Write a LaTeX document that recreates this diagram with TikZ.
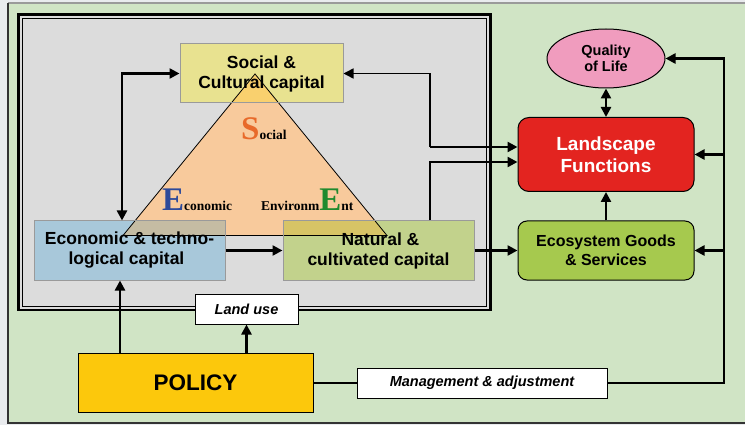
\documentclass[tikz,border=0pt]{standalone}
\usepackage{fontspec}
\setmainfont{Liberation Sans}
\newfontfamily\serifb{Liberation Serif}
\usetikzlibrary{arrows.meta,shapes.geometric,calc}
\definecolor{pagegray}{HTML}{E9EBEE}
\definecolor{bggreen}{HTML}{D0E4C5}
\definecolor{boxgray}{HTML}{DCDCDC}
\definecolor{socfill}{HTML}{E8E290}
\definecolor{ecofill}{HTML}{A8C8DA}
\definecolor{natfill}{HTML}{C2D28C}
\definecolor{trifill}{HTML}{F8CA9C}
\definecolor{socover}{HTML}{F9D06E}
\definecolor{ecoover}{HTML}{C5BCA3}
\definecolor{natover}{HTML}{D7C466}
\definecolor{qualfill}{HTML}{F09CBE}
\definecolor{landfill}{HTML}{E32420}
\definecolor{egsfill}{HTML}{A6C94E}
\definecolor{polfill}{HTML}{FCC80C}
\definecolor{sorange}{HTML}{E86A2A}
\definecolor{eblue}{HTML}{2E4A9A}
\definecolor{egreen}{HTML}{1E8A2E}
\definecolor{bordergray}{HTML}{9A9A9A}
\begin{document}
\begin{tikzpicture}[x=1pt,y=-1pt,
  capbox/.style={draw=bordergray,line width=1pt,inner sep=0pt,align=center,
    font=\fontsize{17.5}{20}\selectfont\bfseries},
  roundbox/.style={draw=black,line width=1pt,rounded corners=9pt,inner sep=0pt,align=center},
  labbox/.style={draw=black,fill=white,line width=1pt,inner sep=0pt,
    font=\fontsize{14.5}{16}\selectfont\bfseries\itshape},
  conn/.style={line width=2.4pt,-{Triangle[length=10pt,width=10pt]}},
  dconn/.style={line width=2.4pt,{Triangle[length=10pt,width=10pt]}-{Triangle[length=10pt,width=10pt]}},
  thinline/.style={line width=1.3pt}
]
\useasboundingbox (0,0) rectangle (745,425);
% page and green frame
\fill[pagegray] (0,0) rectangle (745,425);
\fill[bggreen] (8,3) rectangle (745,423);
\draw[bordergray,line width=1.2pt] (8,3) -- (745,3);
\draw[black!80,line width=1.3pt] (745,423) -- (8,423) -- (8,3);
% gray box with double frame
\fill[boxgray] (18.5,14.5) rectangle (490.5,310);
\draw[black,line width=2.6pt] (18.5,14.5) rectangle (490.5,310);
\draw[black,line width=1pt] (22.5,18.5) rectangle (486.5,306);
% triangle
\coordinate (ta) at (255,74);
\coordinate (tb) at (123,235.5);
\coordinate (tc) at (387,235.5);
\fill[trifill] (ta) -- (tb) -- (tc) -- cycle;
\draw[black,line width=0.8pt] (ta) -- (tb) -- (tc) -- cycle;
% capital boxes
\node[capbox,fill=socfill,minimum width=163pt,minimum height=59pt,
  path picture={\fill[socover] (ta) -- (tb) -- (tc) -- cycle;
    \draw[black,line width=0.8pt] (ta) -- (tb) -- (tc) -- cycle;}]
  (social) at (261.5,73.5) {Social \&\\Cultural capital};
\node[capbox,fill=ecofill,minimum width=191pt,minimum height=59pt,
  path picture={\fill[ecoover] (ta) -- (tb) -- (tc) -- cycle;
    \draw[black,line width=0.8pt] (ta) -- (tb) -- (tc) -- cycle;}]
  (econ) at (129.5,250.5) {Economic \& techno-\\logical capital\hspace*{6pt}};
\node[capbox,fill=natfill,minimum width=191pt,minimum height=59pt,
  path picture={\fill[natover] (ta) -- (tb) -- (tc) -- cycle;
    \draw[black,line width=0.8pt] (ta) -- (tb) -- (tc) -- cycle;}]
  (natural) at (378.5,250.5) {\hspace*{4pt}Natural \&\\cultivated capital};
% triangle words
\node[anchor=base west,inner sep=0pt] (tsoc) at (241,140)
  {\serifb\bfseries{\fontsize{33}{33}\selectfont\color{sorange}S}{\fontsize{13.5}{14}\selectfont ocial}};
\node[anchor=base west,inner sep=0pt] (teco) at (162,211)
  {\serifb\bfseries{\fontsize{33}{33}\selectfont\color{eblue}E}{\fontsize{13.5}{14}\selectfont conomic}};
\node[anchor=base west,inner sep=0pt] (tenv) at (261,211)
  {\serifb\bfseries{\fontsize{13.5}{14}\selectfont Environm}{\fontsize{33}{33}\selectfont\color{egreen}E}{\fontsize{13.5}{14}\selectfont nt}};
% right column
\node[ellipse,draw=black,line width=1pt,fill=qualfill,minimum width=118pt,minimum height=59pt,
  inner sep=0pt,align=center,font=\fontsize{14.5}{16}\selectfont\bfseries]
  (qual) at (606,58.5) {Quality\\of Life};
\node[roundbox,fill=landfill,rounded corners=11pt,minimum width=176pt,minimum height=74pt,
  text=white,font=\fontsize{19}{22}\selectfont\bfseries]
  (land) at (606,154.5) {Landscape\\Functions};
\node[roundbox,fill=egsfill,minimum width=176pt,minimum height=59pt,
  font=\fontsize{16}{19}\selectfont\bfseries]
  (egs) at (606,250.5) {Ecosystem Goods\\\& Services};
% bottom
\node[labbox,minimum width=103pt,minimum height=30pt] (landuse) at (246.5,309) {Land use};
\node[draw=black,line width=1pt,fill=polfill,minimum width=235pt,minimum height=59pt,inner sep=0pt,
  font=\fontsize{22.5}{24}\selectfont\bfseries] (policy) at (195.5,382.5) {POLICY};
\node[labbox,minimum width=250pt,minimum height=30pt] (mgmt) at (482,383) {Management \& adjustment};
% helper coordinates
\coordinate (lx) at (122,0);
\coordinate (jx) at (430,0);
\coordinate (rx) at (724,0);
\coordinate (px) at (120,0);
\coordinate (l1) at ([yshift=7.5pt]land.west);
\coordinate (l2) at ([yshift=-7.5pt]land.west);
% connectors
\draw[dconn] (lx |- econ.north) |- (social.west);
\draw[conn] (econ.east) -- (natural.west);
\draw[line width=1.5pt,-{Triangle[length=10pt,width=10pt]}] (jx |- l1) |- (social.east);
\draw[conn] (jx |- l1) -- (l1);
\draw[thinline] (jx |- natural.north) -- (jx |- l2);
\draw[conn] ([xshift=-0.65pt]jx |- l2) -- (l2);
\draw[conn] (natural.east) -- (egs.west);
\draw[conn] (egs.north) -- (land.south);
\draw[dconn] (land.north) -- (qual.south);
\draw[conn] (px |- policy.north) -- (px |- econ.south);
\draw[conn] (landuse.south |- policy.north) -- (landuse.south);
\draw[thinline] (policy.east |- mgmt.west) -- (mgmt.west);
\draw[thinline] (mgmt.east) -| (rx |- qual.east);
\draw[conn] ([xshift=0.65pt]rx |- qual.east) -- (qual.east);
\draw[conn] (rx |- land.east) -- (land.east);
\draw[conn] (rx |- egs.east) -- (egs.east);
\end{tikzpicture}
\end{document}
